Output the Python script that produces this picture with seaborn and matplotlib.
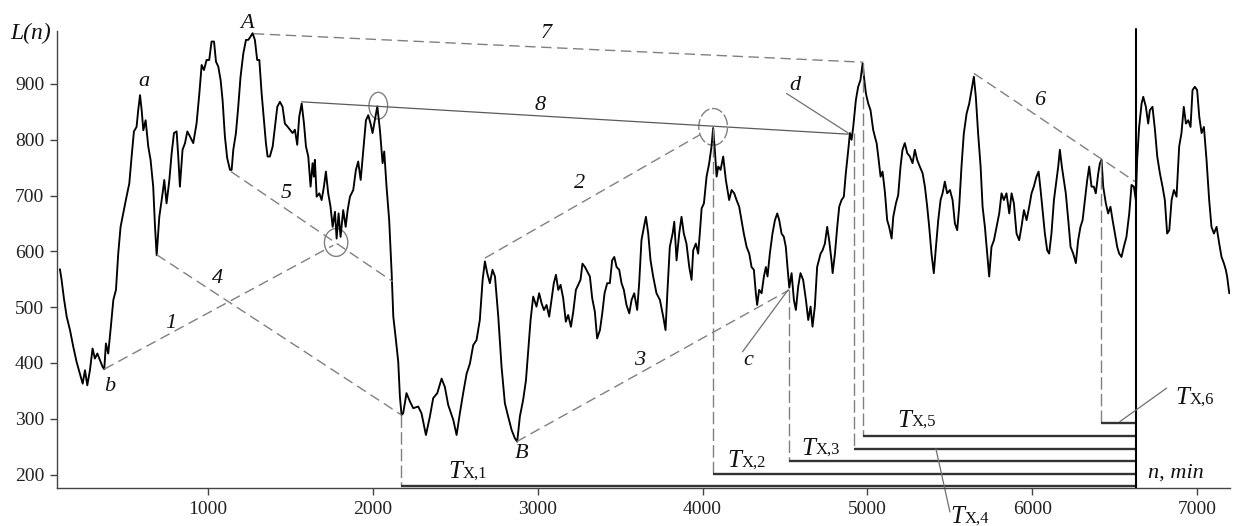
import matplotlib
matplotlib.use("Agg")
import matplotlib.pyplot as plt
from matplotlib.patches import Ellipse
import seaborn as sns
import pandas as pd

# ---- series L(n) -------------------------------------------------------
n_values = [
    100, 110, 124, 141, 161, 181, 201, 221, 238, 252, 266, 282, 298, 312, 327, 343, 359, 369,
    379, 393, 408, 424, 440, 454, 468, 484, 500, 521, 535, 549, 565, 575, 586, 596, 606, 620,
    636, 650, 666, 677, 687, 703, 723, 733, 747, 764, 778, 792, 808, 818, 828, 844, 859, 873,
    889, 909, 929, 946, 960, 974, 990, 1006, 1020, 1035, 1047, 1061, 1075, 1087, 1101, 1115,
    1132, 1142, 1152, 1168, 1182, 1196, 1213, 1229, 1243, 1257, 1269, 1283, 1297, 1310, 1324,
    1338, 1350, 1360, 1374, 1391, 1405, 1419, 1435, 1451, 1465, 1480, 1496, 1512, 1526, 1540,
    1552, 1567, 1581, 1593, 1607, 1621, 1633, 1641, 1647, 1658, 1674, 1688, 1702, 1714, 1728,
    1742, 1755, 1769, 1779, 1791, 1803, 1819, 1834, 1846, 1860, 1880, 1896, 1910, 1925, 1941,
    1957, 1971, 1985, 1997, 2011, 2026, 2042, 2058, 2068, 2082, 2098, 2113, 2123, 2139, 2153,
    2163, 2173,
    2183, 2203, 2224, 2244, 2274, 2294, 2321, 2345, 2365, 2390, 2416, 2436, 2456, 2487, 2507,
    2527, 2547, 2568, 2588, 2608, 2628, 2648, 2665, 2679, 2693, 2709, 2725, 2740, 2760, 2780,
    2800, 2820, 2841, 2861, 2875, 2891, 2911, 2928, 2942, 2956, 2972, 2992, 3008, 3023, 3037,
    3053, 3069, 3083, 3097, 3110, 3124, 3138, 3154, 3170, 3184, 3201, 3215, 3231, 3245, 3259,
    3271, 3286, 3300, 3316, 3330, 3346, 3360, 3377, 3391, 3405, 3421, 3437, 3451, 3464, 3478,
    3494, 3508, 3522, 3538, 3555, 3569, 3585, 3603, 3615, 3629, 3644, 3656, 3670, 3684, 3700,
    3720, 3741, 3761, 3775, 3787, 3801, 3818, 3828, 3842, 3858, 3872, 3886, 3902, 3919, 3933,
    3943, 3959, 3973, 3983, 3994, 4008, 4024, 4040, 4054, 4064, 4074, 4085, 4095, 4109, 4125,
    4141, 4161, 4176, 4192, 4206, 4222, 4236, 4250, 4267, 4283, 4297, 4311, 4323, 4331, 4343,
    4358, 4372, 4384, 4394, 4408, 4424, 4439, 4453, 4465, 4479, 4493, 4505, 4515, 4526, 4540,
    4554, 4566, 4580, 4594, 4610, 4627, 4641, 4655, 4667, 4681, 4695,
    4716, 4728, 4742, 4756, 4768, 4782, 4789, 4803, 4817, 4829, 4843, 4857, 4869, 4884, 4894,
    4904, 4914, 4930, 4944, 4958, 4971, 4979, 4991, 5005, 5019, 5035, 5045, 5056, 5066, 5080,
    5092, 5106, 5120, 5132, 5147, 5157, 5173, 5187, 5201, 5213, 5227, 5242, 5258, 5274, 5288,
    5302, 5318, 5335, 5349, 5363, 5375, 5389, 5403, 5416, 5430, 5444, 5456, 5470, 5484, 5501,
    5517, 5531, 5545, 5557, 5571, 5585, 5602, 5618, 5632, 5646, 5658, 5672, 5687, 5699, 5713,
    5727, 5739, 5753, 5768, 5784, 5800, 5814, 5828, 5844, 5861, 5875, 5889, 5905, 5921, 5935,
    5950, 5966, 5982, 5996, 6010, 6026, 6039, 6051, 6063, 6077, 6091, 6103, 6117, 6132, 6148,
    6158, 6168, 6180, 6192, 6204, 6219, 6233, 6249, 6265, 6279, 6293, 6306, 6320, 6334, 6346,
    6360, 6374, 6386, 6401, 6411, 6421, 6431, 6447, 6461, 6475, 6488, 6502, 6516, 6528, 6542,
    6556, 6572, 6589, 6603, 6617, 6629, 6637, 6649, 6664, 6674, 6690, 6704, 6714, 6730, 6745,
    6759, 6775, 6791, 6805, 6819, 6832, 6846, 6860, 6876, 6892, 6906, 6920, 6933, 6947, 6961,
    6973, 6987, 7001, 7014, 7028, 7042, 7058, 7074, 7088, 7103, 7119, 7135, 7149, 7163, 7175,
    7183, 7196,
]
L_values = [
    568, 549, 516, 483, 459, 429, 402, 381, 363, 387, 360, 387, 426, 408, 417, 405, 393, 389,
    435, 417, 462, 513, 531, 597, 644, 668, 692, 722, 770, 815, 823, 853, 880, 853, 817, 835,
    788, 764, 716, 644, 593, 662, 704, 728, 686, 728, 776, 812, 815, 770, 716, 782, 794, 815,
    806, 794, 829, 883, 934, 925, 943, 943, 976, 976, 940, 931, 907, 871, 806, 767,
    746, 746, 782, 812, 859, 913, 955, 979, 979, 985, 991, 979, 943, 943, 883,
    835, 794, 770, 770, 788, 824, 859, 868, 859, 829, 824, 818, 812, 818, 791,
    841, 865, 829, 788, 770, 716, 758, 734, 764, 698, 704, 692, 716, 743, 704,
    680, 644, 671, 623, 668, 626, 674, 644, 674, 698, 710, 746, 761, 728, 782,
    835, 844, 829, 812, 835, 860, 817, 758, 779, 716, 656, 561, 483, 441, 402,
    340, 307,
    310, 346, 331, 319, 322, 310, 271, 304, 337, 346, 372, 357, 325, 298, 271,
    310, 346, 381, 399, 432, 441, 477, 549, 582, 561, 543, 567, 555, 483, 393,
    328, 304, 280, 265, 259, 304, 334, 369, 423, 477, 519, 501, 525, 507, 495,
    504, 483, 513, 543, 558, 531, 540, 516, 474, 486, 465, 492, 531, 540, 549,
    578, 572, 564, 555, 516, 492, 444, 459, 489, 525, 543, 543, 584, 590, 572,
    567, 543, 531, 504, 489, 513, 525, 495, 543, 620, 644, 662, 632, 584, 555,
    525, 513, 483, 459, 531, 608, 632, 653, 584, 632, 662, 632, 614, 572, 549,
    602, 614, 596, 632, 677, 686, 734, 758, 788, 821, 782, 734, 752, 746, 770,
    728, 692, 710, 704, 692, 680, 656, 632, 608, 596, 572, 567, 525, 504, 531,
    525, 555, 572, 555, 596, 632, 656, 668, 656, 632, 626, 608, 572, 535, 561,
    513, 495, 537, 561, 549, 513, 477, 501, 465, 501, 572,
    596, 602, 614, 644, 620, 584, 561, 596, 644, 680, 692, 698, 740, 782, 812,
    800, 823, 871, 895, 907, 937, 913, 883, 865, 853, 818, 806, 794, 770, 734,
    743, 707, 656, 644, 623, 662, 686, 701, 752, 782, 794, 776, 770, 758, 782,
    764, 752, 740, 716, 680, 644, 596, 561, 608, 656, 692, 704, 725, 704, 710,
    692, 650, 638, 680, 752, 811, 847, 865, 889, 913, 877, 811, 752, 680, 644,
    596, 555, 608, 620, 644, 668, 704, 692, 704, 668, 704, 686, 632, 620, 644,
    674, 656, 680, 704, 716, 734, 743, 710, 674, 632, 602, 596, 632, 692, 728,
    752, 782, 752, 728, 704, 656, 608, 596, 579, 620, 644, 656, 692, 728, 752,
    716, 716, 704, 740, 758, 764, 716, 686, 668, 680, 656, 632, 608, 596, 590,
    608, 626, 668, 719, 716, 692, 764, 823, 865, 877, 859, 829, 853, 859, 818,
    770, 740, 716, 692, 632, 638, 692, 710, 698, 788, 812, 859, 829, 835, 823,
    889, 895, 889, 841, 812, 823, 764, 692, 644, 632, 644, 614, 590, 579, 567,
    555, 525,
]

# ---- construction lines -------------------------------------------------
dashed_x = [[369, 1759], [687, 2172], [1138, 2119], [2679, 3984],
            [2871, 4526], [1277, 4975], [5646, 6625]]
dashed_y = [[389, 611], [594, 307], [743, 546], [588, 809],
            [259, 531], [990, 939], [919, 725]]
trend8_x = [1567, 4884]
trend8_y = [868, 810]

# durations T_X,k: start of interval, level of the bar, point on the curve
t_start = [2172, 4064, 4526, 4917, 4975, 6415]
t_level = [180, 201, 224, 246, 270, 293]
t_top = [307, 821, 531, 812, 937, 764]
n_end = 6629

xticks = [1000, 2000, 3000, 4000, 5000, 6000, 7000]
yticks = [200, 300, 400, 500, 600, 700, 800, 900]

# ---- figure -------------------------------------------------------------
sns.set_theme(style="ticks")
plt.rcParams["font.family"] = ["Liberation Serif", "DejaVu Serif"]
plt.rcParams["axes.edgecolor"] = "#444444"
plt.rcParams["xtick.color"] = "#444444"
plt.rcParams["ytick.color"] = "#444444"

fig = plt.figure(figsize=(12.34, 5.26), dpi=100)
ax = fig.add_axes([0.0459, 0.0717, 0.9508, 0.870])

df = pd.DataFrame({"n": n_values, "L": L_values})
sns.lineplot(data=df, x="n", y="L", ax=ax, color="black", linewidth=1.35,
             sort=False, estimator=None)

ax.set_xlim(80, 7200)
ax.set_ylim(175.5, 995.5)
ax.set_xticks(xticks)
ax.set_yticks(yticks)
ax.set_xlabel("")
ax.set_ylabel("")
ax.tick_params(axis="both", labelsize=14, length=5, width=1, direction="out",
               labelcolor="#222222", pad=4)
sns.despine(ax=ax)
for s in ("left", "bottom"):
    ax.spines[s].set_linewidth(1.0)

gray = "#808080"
dash = (0, (7.5, 4))

for xs, ys in zip(dashed_x, dashed_y):
    ax.plot(xs, ys, color=gray, lw=1.0, linestyle=dash)
ax.plot(trend8_x, trend8_y, color="#5a5a5a", lw=0.9)

# vertical drop lines and duration bars
for x0, lev, top in zip(t_start, t_level, t_top):
    ax.plot([x0, x0], [top, lev], color=gray, lw=1.0, linestyle=(0, (9, 3)))
    ax.plot([x0, n_end], [lev, lev], color="#333333", lw=1.7, solid_capstyle="butt")

ax.plot([n_end, n_end], [175.5, 998], color="black", lw=1.5, clip_on=False)

# ellipses around turning points
ax.add_patch(Ellipse((1776, 616), 142, 50, fill=False, ec=gray, lw=1.0))
ax.add_patch(Ellipse((2032, 861), 113, 48, fill=False, ec=gray, lw=1.0))
ax.add_patch(Ellipse((4064, 823), 174, 66, fill=False, ec=gray, lw=1.0,
                     linestyle=(0, (8, 2))))

# leaders
lead = "#707070"
ax.plot([4242, 4519], [420, 531], color=lead, lw=0.9)
ax.plot([4509, 4884], [883, 812], color=lead, lw=0.9)
ax.plot([5416, 5501], [246, 133], color=lead, lw=0.9, clip_on=False)
ax.plot([6532, 6816], [295, 355], color=lead, lw=0.9)

# point letters and line numbers
lab = dict(fontsize=16, style="italic", ha="center", va="center", color="#111111")
for s, x, y in [("a", 610, 904), ("A", 1233, 1009), ("b", 403, 357), ("B", 2901, 238),
                ("c", 4277, 405), ("d", 4560, 898),
                ("1", 772, 471), ("4", 1055, 552), ("5", 1471, 704), ("2", 3255, 722),
                ("3", 3615, 405), ("7", 3053, 991), ("8", 3013, 862), ("6", 6043, 871)]:
    ax.text(x, y, s, clip_on=False, **lab)


def t_label(x, y, k):
    t = ax.text(x, y, "T", fontsize=18, style="italic", ha="left", va="baseline",
                color="#111111", clip_on=False)
    ax.annotate(f"X,{k}", xy=(1, 0), xycoords=t, xytext=(0.5, 4.0),
                textcoords="offset points", fontsize=12, ha="left", va="baseline",
                color="#111111", annotation_clip=False)


for k, (x, y) in enumerate([(2455, 194), (4150, 214), (4600, 236), (5501, 113),
                            (5180, 286), (6866, 327)], start=1):
    t_label(x, y, k)

ax.text(6700, 194, "n, min", fontsize=16, style="italic", ha="left", va="baseline",
        color="#111111")
fig.text(10 / 1234, 1 - 33 / 526, "L(n)", fontsize=17, style="italic",
         ha="left", va="center", color="#111111")

fig.savefig("out.png", dpi=100)
